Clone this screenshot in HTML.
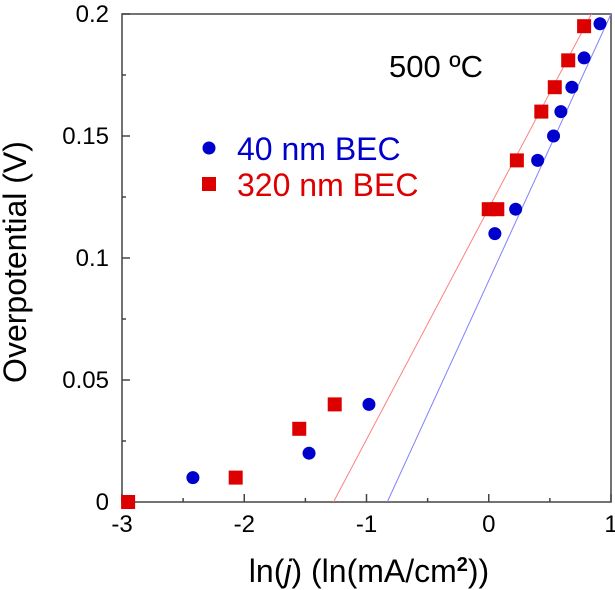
<!DOCTYPE html>
<html><head><meta charset="utf-8"><style>
html,body{margin:0;padding:0;background:#fff;}
svg{display:block;font-family:"Liberation Sans",sans-serif;}
</style></head><body>
<svg id="chart" width="615" height="590">
<defs><clipPath id="clip"><rect x="122" y="14" width="489" height="488"/></clipPath></defs>
<rect x="122" y="14" width="489" height="488" fill="none" stroke="#444" stroke-width="1.5"/>
<g id="ticks"></g>
<g id="lines" clip-path="url(#clip)"></g>
<g id="marks"></g>
<text x="436" y="77" font-size="31" text-anchor="middle">500 ºC</text>
<circle cx="209" cy="148" r="6.5" fill="#0000cc"/>
<text x="237" y="160" font-size="32" fill="#0000cc">40 nm BEC</text>
<rect x="202" y="177" width="14" height="14" fill="#dd0000"/>
<text x="237" y="196" font-size="32" fill="#dd0000">320 nm BEC</text>
<text x="369" y="582" font-size="32" text-anchor="middle">ln(<tspan font-style="italic">j</tspan>) (ln(mA/cm<tspan font-size="20" dy="-11" font-weight="bold">2</tspan><tspan dy="11">))</tspan></text>
<text transform="translate(26,262) rotate(-90)" font-size="32" text-anchor="middle">Overpotential (V)</text>
</svg>
<script>
const xTicks=[-3,-2,-1,0,1];
const yTicks=[0,0.05,0.1,0.15,0.2];
const yTickLabels=["0","0.05","0.1","0.15","0.2"];
const blueX=[-2.42,-1.47,-0.98,0.05,0.22,0.40,0.53,0.59,0.68,0.78,0.91];
const blueY=[0.01,0.02,0.04,0.11,0.12,0.14,0.15,0.16,0.17,0.182,0.196];
const redX=[-2.95,-2.07,-1.55,-1.26,0.0,0.07,0.23,0.43,0.54,0.65,0.78];
const redY=[0,0.01,0.03,0.04,0.12,0.12,0.14,0.16,0.17,0.181,0.195];
const blueFitX=[-0.83,1.0];
const blueFitY=[0,0.2];
const redFitX=[-1.27,0.84];
const redFitY=[0,0.2];
const NS="http://www.w3.org/2000/svg";
const sx=v=>122+(v+3)*122.25;
const sy=v=>502-v*2440;
function mk(tag,attrs,parent){const e=document.createElementNS(NS,tag);for(const k in attrs)e.setAttribute(k,attrs[k]);document.getElementById(parent).appendChild(e);return e;}
xTicks.forEach((t,i)=>{
  const l=mk('line',{x1:sx(t),x2:sx(t),y1:502,y2:494,stroke:'#444','stroke-width':1.5},'ticks');
  
  
  if(i<xTicks.length-1){const m=mk('line',{x1:sx(t+0.5),x2:sx(t+0.5),y1:502,y2:498,stroke:'#444','stroke-width':1.5},'ticks');
  
  }
  const tx=mk('text',{x:sx(t),y:532,'font-size':24,'text-anchor':'middle'},'ticks');
  tx.textContent=String(t);
  
  
});
yTicks.forEach((t,i)=>{
  const l=mk('line',{x1:122,x2:130,y1:sy(t),y2:sy(t),stroke:'#444','stroke-width':1.5},'ticks');
  
  
  if(i<yTicks.length-1){const m=mk('line',{x1:122,x2:126,y1:sy(t+0.025),y2:sy(t+0.025),stroke:'#444','stroke-width':1.5},'ticks');
  
  }
  const tx=mk('text',{x:109,y:sy(t)+8,'font-size':24,'text-anchor':'end'},'ticks');
  tx.textContent=yTickLabels[i];
  
  
});
const rl=mk('line',{x1:sx(redFitX[0]),y1:sy(redFitY[0]),x2:sx(redFitX[1]),y2:sy(redFitY[1]),stroke:'#ff8080','stroke-width':1},'lines');


const bl=mk('line',{x1:sx(blueFitX[0]),y1:sy(blueFitY[0]),x2:sx(blueFitX[1]),y2:sy(blueFitY[1]),stroke:'#8080ff','stroke-width':1},'lines');


blueX.forEach((x,i)=>{
  const c=mk('circle',{cx:sx(x),cy:sy(blueY[i]),r:6.5,fill:'#0000cc'},'marks');
  
  
});
redX.forEach((x,i)=>{
  const r=mk('rect',{x:sx(x)-7,y:sy(redY[i])-7,width:14,height:14,fill:'#dd0000'},'marks');
  
  
});
</script>
</body></html>
